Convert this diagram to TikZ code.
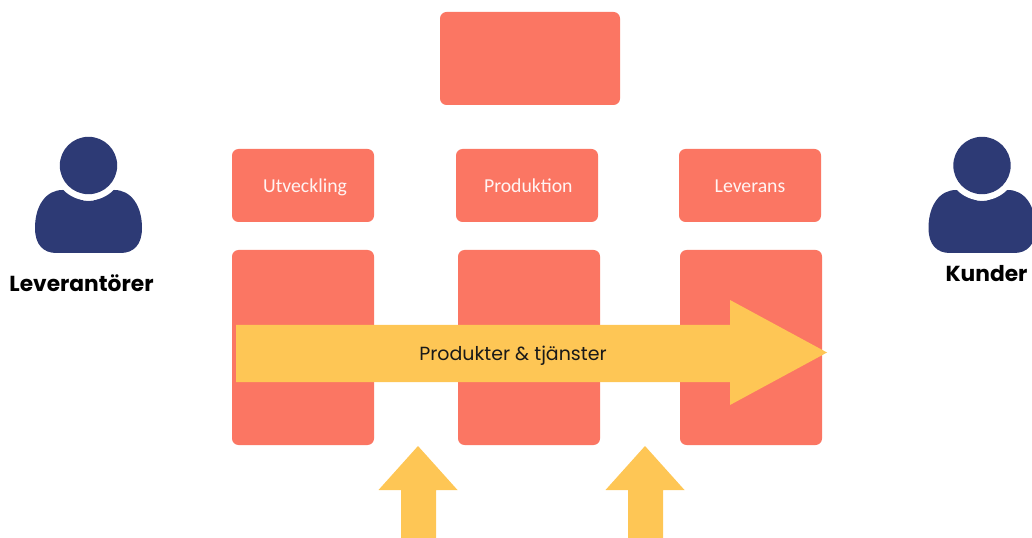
\documentclass[tikz,border=0pt]{standalone}
\usepackage{fontspec}
\setmainfont{Poppins}
\newfontfamily\boxfont{Carlito}
\definecolor{coral}{HTML}{FB7663}
\definecolor{amber}{HTML}{FEC655}
\definecolor{navy}{HTML}{2D3A75}
\tikzset{
  x=0.75pt,y=-0.75pt,
  coralbox/.style={fill=coral,rounded corners=6.5pt*0.75,inner sep=0pt,text=white!92!coral,text height=10pt,text depth=0pt,font=\boxfont\fontsize{14.8pt}{17pt}\selectfont},
  amberarrow/.style={fill=amber},
  personshape/.style={fill=navy},
  caption/.style={font=\fontsize{16.3pt}{19pt}\selectfont\bfseries,text=black,inner sep=0pt}
}
\newcommand{\personicon}[2]{%
  \begin{scope}[shift={(#1,0)}]
    \fill[personshape] (-53.5,228) .. controls (-53.5,205) and (-42,190) .. (-26,190)
      .. controls (-15,190) and (-14,201) .. (0,201)
      .. controls (14,201) and (15,190) .. (26,190)
      .. controls (42,190) and (#2,205) .. (#2,228)
      .. controls (#2,245) and (45,253) .. (32,253)
      -- (-32,253) .. controls (-45,253) and (-53.5,245) .. (-53.5,228) -- cycle;
    \fill[white] (0,165.5) circle[radius=35];
    \fill[personshape] (0,165.5) circle[radius=28.7];
  \end{scope}}
\begin{document}
\begin{tikzpicture}
\useasboundingbox (0,0) rectangle (1032,538);
\clip (0,0) rectangle (1032,538);
% top and header boxes
\node[coralbox,minimum width=135pt,minimum height=69.75pt] (top) at (530,58.5) {};
\node[coralbox,minimum width=106.5pt,minimum height=54.75pt] (utv) at (303,185.5) {\hspace*{3pt}Utveckling};
\node[coralbox,minimum width=106.5pt,minimum height=54.75pt] (prod) at (527,185.5) {\hspace*{2pt}Produktion};
\node[coralbox,minimum width=106.5pt,minimum height=54.75pt] (lev) at (750,185.5) {Leverans};
% columns
\node[coralbox,minimum width=106.5pt,minimum height=146.25pt] (c1) at (303,347.5) {};
\node[coralbox,minimum width=106.5pt,minimum height=146.25pt] (c2) at (529,347.5) {};
\node[coralbox,minimum width=106.5pt,minimum height=146.25pt] (c3) at (751,347.5) {};
% main arrow
\fill[amberarrow] (236,325) -- (730,325) -- (730,300) -- (827,352.5) -- (730,405) -- (730,382) -- (236,382) -- cycle;
\node[font=\fontsize{14.25pt}{17pt}\selectfont,inner sep=0pt,text=black!90] (pt) at (513,356) {Produkter \& tjänster};
% up arrows
\fill[amberarrow] (418,446) -- (457.5,490) -- (436,490) -- (436,538) -- (401,538) -- (401,490) -- (378.5,490) -- cycle;
\fill[amberarrow] (645,446) -- (684.5,490) -- (663,490) -- (663,538) -- (628,538) -- (628,490) -- (605.5,490) -- cycle;
% persons
\personicon{88.5}{53.5}
\personicon{982}{53.5}
\node[caption] (lvt) at (81.5,283.5) {Leverantörer};
\node[caption] (kun) at (986.5,274) {Kunder};
\end{tikzpicture}
\end{document}
